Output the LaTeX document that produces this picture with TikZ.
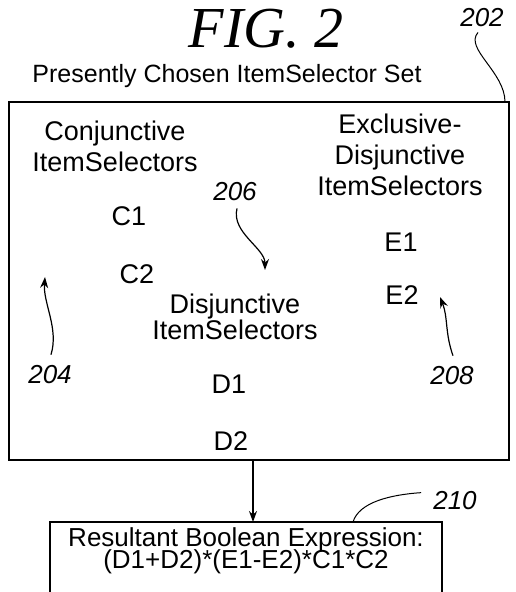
\documentclass[tikz,border=0pt]{standalone}
\usepackage{fontspec}
\setmainfont{Liberation Sans}
\newfontfamily\figfont{Liberation Serif}
\newcommand\tightlines{\lineskiplimit=-20pt\relax}
\usetikzlibrary{positioning, calc, arrows.meta}

\begin{document}
\begin{tikzpicture}[
  x=1pt, y=-1pt,
  txt/.style={font=\fontsize{27}{31}\selectfont, align=center, inner sep=0pt, anchor=base},
  refnum/.style={font=\fontsize{26}{28}\selectfont\itshape, inner sep=0pt, anchor=base},
  frame/.style={draw, line width=1.6pt},
  lead/.style={line width=1pt},
  arr/.style={line width=1.2pt, -{Stealth[length=11pt, width=8pt]}}
]

% 画布大小 = 参考图 515 x 592
\useasboundingbox (0,0) rectangle (515,592);

% 标题
\node[inner sep=0pt, anchor=base, font=\fontsize{58}{60}\selectfont\figfont\itshape] (fig) at (266,47) {FIG. 2};
\node[txt, font=\fontsize{25}{28}\selectfont] (title) at (227,82) {Presently Chosen ItemSelector Set};
\node[refnum] (n202) at (482,26) {202};

% 外框 (ItemSelector Set)
\coordinate (setnw) at (9,102);
\coordinate (setse) at (509,460);
\draw[frame] (setnw) rectangle (setse);
\coordinate (setne) at (505,102);

% 三组 ItemSelectors (base = 最后一行基线)
\node[txt] (conj) at (115,171) {Conjunctive\\ItemSelectors};
\node[txt] (excl) at (400,195) {Exclusive-\\Disjunctive\\ItemSelectors};
\node[txt, font={\fontsize{27}{26}\selectfont\tightlines}] (disj) at (235,339) {Disjunctive\\ItemSelectors};

\node[txt] (c1) at (129,225) {C1};
\node[txt] (c2) at (137,283) {C2};
\node[txt] (e1) at (401,251) {E1};
\node[txt] (e2) at (402,304) {E2};
\node[txt] (d1) at (229,393) {D1};
\node[txt] (d2) at (231,450) {D2};

% 参考编号
\node[refnum] (n204) at (50,383) {204};
\node[refnum] (n206) at (235,200) {206};
\node[refnum] (n208) at (452,384) {208};
\node[refnum] (n210) at (455,509) {210};

% 指引线
\draw[lead] ($(n202.south)+(-4,6)$) .. controls +(-14,16) and +(0,-30) .. (setne);
\draw[arr] ($(n206.south)+(2,8)$) .. controls +(-6,24) and +(0,-22) .. (265,270);
\draw[arr] ($(n204.north)+(1,-10)$) .. controls +(8,-26) and +(-2,26) .. (45,277);
\draw[arr] ($(n208.north)+(1,-10)$) .. controls +(-8,-22) and +(8,20) .. (440,297);

% 结果框 (底边在图外)
\node[txt, font={\fontsize{26}{22}\selectfont\tightlines}] (result) at (246,568)
  {Resultant Boolean Expression:\\(D1+D2)*(E1-E2)*C1*C2};
\coordinate (resnw) at (50,522);
\coordinate (resne) at (442,522);
\draw[line width=1.4pt] (50,592) -- (resnw) -- (resne) -- (442,592);
\draw[arr] (253,460) -- (253,522);
\draw[lead] (353,522) .. controls +(6,-20) and +(-30,2) .. ($(n210.north west)+(-12,2)$);

\end{tikzpicture}
\end{document}
